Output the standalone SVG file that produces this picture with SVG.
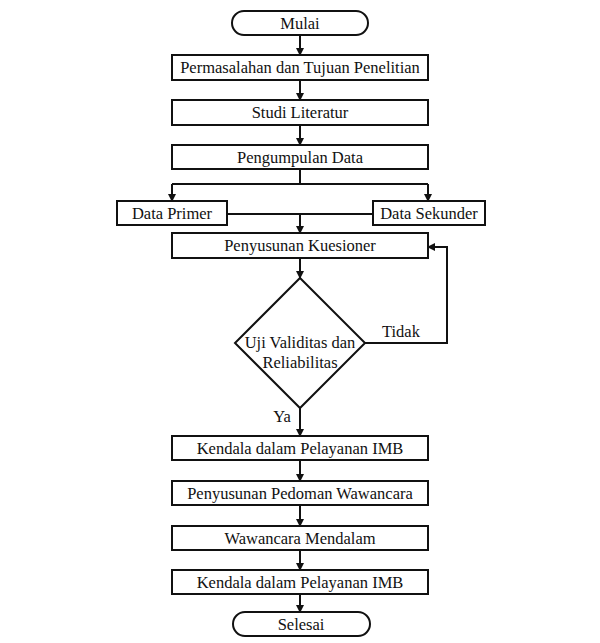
<svg xmlns="http://www.w3.org/2000/svg" width="600" height="643" viewBox="0 0 600 643">
<style>
.b{fill:#fff;stroke:#111;stroke-width:2}
.t{font-family:"Liberation Serif","Times New Roman",serif;font-size:16.5px;fill:#111;text-anchor:middle;dominant-baseline:central}
.c{fill:none;stroke:#111;stroke-width:2}
</style>
<defs>
<marker id="a" markerWidth="8" markerHeight="8" refX="7" refY="4" orient="auto" markerUnits="userSpaceOnUse">
<path d="M0,0 L8,4 L0,8 Z" fill="#111"/>
</marker>
</defs>
<rect width="600" height="643" fill="#fff"/>
<g id="connectors">
<path class="c" d="M300,35 V55" marker-end="url(#a)"/>
<path class="c" d="M300,80 V100" marker-end="url(#a)"/>
<path class="c" d="M300,125 V145" marker-end="url(#a)"/>
<path class="c" d="M300,169 V184"/>
<path class="c" d="M172,184 H428"/>
<path class="c" d="M172,184 V201" marker-end="url(#a)"/>
<path class="c" d="M428,184 V201" marker-end="url(#a)"/>
<path class="c" d="M227,214 H373"/>
<path class="c" d="M300,214 V233" marker-end="url(#a)"/>
<path class="c" d="M300,258 V278" marker-end="url(#a)"/>
<path class="c" d="M365,343 H447 V247 H428" marker-end="url(#a)"/>
<path class="c" d="M300,408 V436" marker-end="url(#a)"/>
<path class="c" d="M300,460 V481" marker-end="url(#a)"/>
<path class="c" d="M300,505 V526" marker-end="url(#a)"/>
<path class="c" d="M300,550 V570" marker-end="url(#a)"/>
<path class="c" d="M300,594 V612" marker-end="url(#a)"/>
<text class="t" x="401" y="331">Tidak</text>
<text class="t" x="282" y="416">Ya</text>
</g>
<g id="mulai"><rect class="b" x="232" y="11" width="136" height="24" rx="12"/><text class="t" x="300" y="23">Mulai</text></g>
<g id="permasalahan"><rect class="b" x="172" y="55" width="256" height="25"/><text class="t" x="300" y="67.5">Permasalahan dan Tujuan Penelitian</text></g>
<g id="studi"><rect class="b" x="172" y="100" width="256" height="25"/><text class="t" x="300" y="112.5">Studi Literatur</text></g>
<g id="pengumpulan"><rect class="b" x="172" y="145" width="256" height="24"/><text class="t" x="300" y="157">Pengumpulan Data</text></g>
<g id="primer"><rect class="b" x="117" y="201" width="110" height="24"/><text class="t" x="172" y="213">Data Primer</text></g>
<g id="sekunder"><rect class="b" x="373" y="201" width="112" height="24"/><text class="t" x="429" y="213">Data Sekunder</text></g>
<g id="kuesioner"><rect class="b" x="172" y="233" width="256" height="25"/><text class="t" x="300" y="245.5">Penyusunan Kuesioner</text></g>
<g id="uji"><path class="b" d="M300,278 L365,343 L300,408 L235,343 Z"/><text class="t" x="300" y="342" font-size="15">Uji Validitas dan</text><text class="t" x="300" y="362" font-size="15">Reliabilitas</text></g>
<g id="kendala1"><rect class="b" x="172" y="436" width="256" height="24"/><text class="t" x="300" y="448">Kendala dalam Pelayanan IMB</text></g>
<g id="pedoman"><rect class="b" x="172" y="481" width="256" height="24"/><text class="t" x="300" y="493">Penyusunan Pedoman Wawancara</text></g>
<g id="wawancara"><rect class="b" x="172" y="526" width="256" height="24"/><text class="t" x="300" y="538">Wawancara Mendalam</text></g>
<g id="kendala2"><rect class="b" x="172" y="570" width="256" height="24"/><text class="t" x="300" y="582">Kendala dalam Pelayanan IMB</text></g>
<g id="selesai"><rect class="b" x="233" y="612" width="137" height="24" rx="12"/><text class="t" x="301" y="624">Selesai</text></g>
</svg>
